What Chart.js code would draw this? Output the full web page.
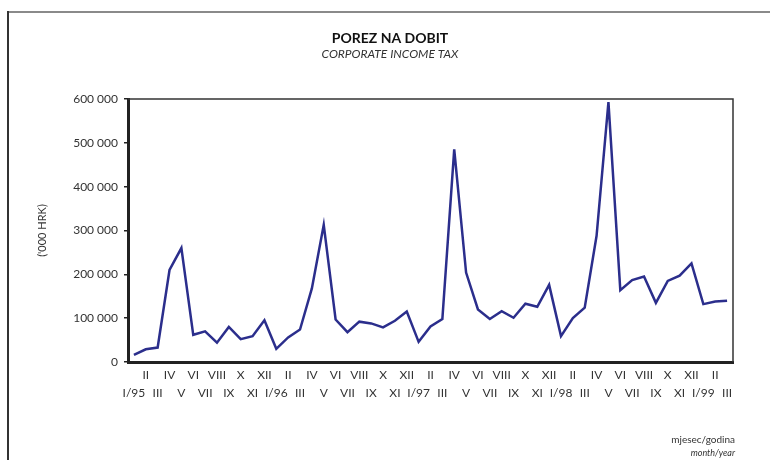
<!DOCTYPE html>
<html>
<head>
<meta charset="utf-8">
<script src="https://cdn.jsdelivr.net/npm/chart.js@4.4.0/dist/chart.umd.min.js"></script>
<style>
  html, body { margin: 0; padding: 0; background: #fff; }
  #wrap { width: 770px; height: 460px; position: relative; }
</style>
</head>
<body>
<div id="wrap"><canvas id="chart"></canvas></div>
<script>
// Monthly labels I/95 .. III/99, top row = even months, bottom row = odd months
const MONTHS = ['I', 'II', 'III', 'IV', 'V', 'VI', 'VII', 'VIII', 'IX', 'X', 'XI', 'XII'];
const YEARS  = ['95', '96', '97', '98', '99'];

// ('000 HRK)
const values = [
  16000, 29000, 33000, 210000, 260000, 62000, 70000, 44000, 80000, 52000, 59000, 95000,
  30000, 56000, 74000, 168000, 313000, 97000, 68000, 92000, 88000, 79000, 94000, 115000,
  46000, 81000, 98000, 485000, 204000, 120000, 98000, 116000, 101000, 133000, 126000, 176000,
  59000, 100000, 124000, 288000, 593000, 164000, 187000, 195000, 135000, 185000, 197000, 225000,
  132000, 138000, 140000
];

const yTicks = [0, 100000, 200000, 300000, 400000, 500000, 600000];

const labels = values.map((_, i) => {
  const m = i % 12;
  const name = m === 0 ? `I/${YEARS[Math.floor(i / 12)]}` : MONTHS[m];
  return i % 2 === 0 ? ['', name] : [name, ''];
});

const FONT = 'Lato, "Open Sans", sans-serif';
const TEXT = '#333';

// ─── Frame, titles, notes ──────────────────────────────

const decor = {
  id: 'decor',
  afterDraw(chart) {
    const { ctx, chartArea: a } = chart;
    ctx.save();

    // page frame
    ctx.lineWidth = 2;
    ctx.strokeStyle = '#8a8a8a';
    ctx.beginPath();
    ctx.moveTo(8, 12);
    ctx.lineTo(770, 12);
    ctx.stroke();
    ctx.strokeStyle = '#333';
    ctx.beginPath();
    ctx.moveTo(8, 460);
    ctx.lineTo(8, 11);
    ctx.stroke();

    // top & right of plot box
    ctx.strokeStyle = '#333';
    ctx.lineWidth = 1.5;
    ctx.beginPath();
    ctx.moveTo(a.left, a.top);
    ctx.lineTo(a.right, a.top);
    ctx.lineTo(a.right, a.bottom);
    ctx.stroke();

    ctx.fillStyle = '#111';
    ctx.textAlign = 'center';
    ctx.textBaseline = 'middle';
    ctx.font = `bold 14px ${FONT}`;
    ctx.fillText('POREZ NA DOBIT', 390, 38);
    ctx.fillStyle = TEXT;
    ctx.font = `italic 12px ${FONT}`;
    ctx.fillText('CORPORATE INCOME TAX', 390, 54);

    ctx.textAlign = 'right';
    ctx.font = `10px ${FONT}`;
    ctx.fillText('mjesec/godina', 735, 440);
    ctx.font = `italic 9px ${FONT}`;
    ctx.fillText('month/year', 735, 453);

    ctx.translate(42, (a.top + a.bottom) / 2);
    ctx.rotate(-Math.PI / 2);
    ctx.textAlign = 'center';
    ctx.font = `11px ${FONT}`;
    ctx.fillText("('000 HRK)", 0, 0);
    ctx.restore();
  }
};

new Chart(document.getElementById('chart'), {
  type: 'line',
  data: {
    labels,
    datasets: [{
      data: values,
      borderColor: '#2B2E8C',
      borderWidth: 2.5,
      pointRadius: 0,
      tension: 0,
      fill: false,
    }],
  },
  options: {
    responsive: true,
    maintainAspectRatio: false,
    animation: false,
    layout: { padding: { top: 99, right: 37, bottom: 38, left: 0 } },
    plugins: { legend: { display: false }, tooltip: { enabled: false } },
    scales: {
      x: {
        offset: true,
        grid: { display: false, drawTicks: false },
        border: { display: true, color: '#222', width: 3 },
        ticks: {
          autoSkip: false, maxRotation: 0, minRotation: 0, padding: 4,
          color: TEXT, font: { family: FONT, size: 12, lineHeight: 1.5 },
        },
        afterFit: s => { s.height = 60; },
      },
      y: {
        min: 0, max: 600000,
        afterBuildTicks: s => { s.ticks = yTicks.map(v => ({ value: v })); },
        grid: { drawOnChartArea: false, drawTicks: true, tickLength: 4, color: '#222', lineWidth: 1.5 },
        border: { display: true, color: '#222', width: 3 },
        ticks: {
          padding: 6, color: TEXT, font: { family: FONT, size: 12 },
          callback: v => String(v).replace(/\B(?=(\d{3})+(?!\d))/g, ' '),
        },
        afterFit: s => { s.width = 128; },
      },
    },
  },
  plugins: [decor],
});
</script>
</body>
</html>
